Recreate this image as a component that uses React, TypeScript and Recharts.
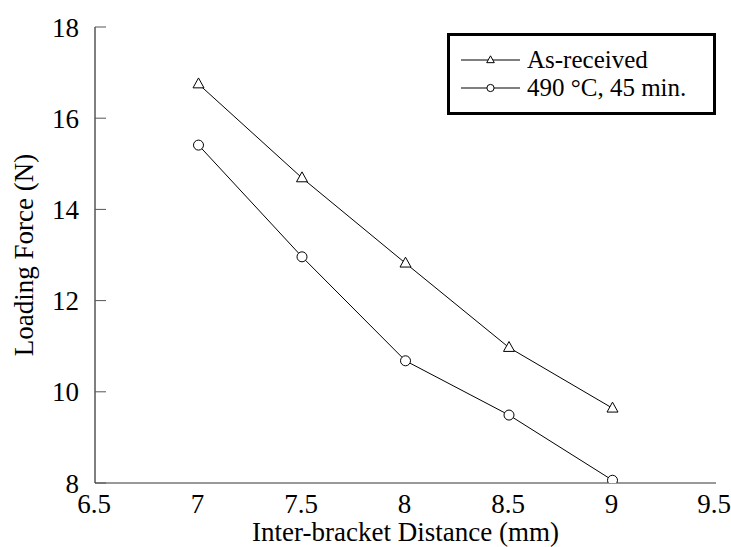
import {LineChart, Line, XAxis, YAxis, Legend} from 'recharts'

const distance: number[] = [7, 7.5, 8, 8.5, 9]
const asReceived: number[] = [16.75, 14.69, 12.82, 10.97, 9.64]
const heatTreated: number[] = [15.41, 12.96, 10.68, 9.49, 8.06]

const xTicks: number[] = [6.5, 7, 7.5, 8, 8.5, 9, 9.5]
const yTicks: number[] = [8, 10, 12, 14, 16, 18]

const seriesNames: string[] = ['As-received', '490 °C, 45 min.']

const FONT = '"Liberation Serif", "Times New Roman", serif'
const FONT_SIZE = 27
const LEGEND_FONT_SIZE = 25

const data = distance.map((d, i) => ({
    distance: d,
    asReceived: asReceived[i],
    heatTreated: heatTreated[i],
}))

const triangle = (cx: number, cy: number, s: number, key?: any) => (
    <path
        key={key}
        d={`M${cx},${cy - s * 1.1} L${cx - s},${cy + s * 0.7} L${cx + s},${cy + s * 0.7} Z`}
        fill="#fff"
        stroke="#000"
        strokeWidth={1}
    />
)

const circle = (cx: number, cy: number, r: number, key?: any) => (
    <circle key={key} cx={cx} cy={cy} r={r} fill="#fff" stroke="#000" strokeWidth={1} />
)

const triangleDot = (props: any) => triangle(props.cx, props.cy, 5.5, 'tri-' + props.index)
const circleDot = (props: any) => circle(props.cx, props.cy, 5, 'cir-' + props.index)

const renderLegend = () => {
    const markers = [
        (x: number, y: number) => triangle(x, y, 3.8),
        (x: number, y: number) => circle(x, y, 3.6),
    ]
    return (
        <div style={{
            border: '3px solid #000',
            background: '#fff',
            boxSizing: 'border-box',
            width: 269,
            height: 82,
            padding: '10px 0 0 11px',
            fontFamily: FONT,
            fontSize: LEGEND_FONT_SIZE,
            color: '#000',
        }}>
            {seriesNames.map((name, i) => (
                <div key={name} style={{display: 'flex', alignItems: 'center', height: 28}}>
                    <svg width={59} height={28} style={{flexShrink: 0}}>
                        <line x1={0} y1={14} x2={59} y2={14} stroke="#000" strokeWidth={1} />
                        {markers[i](29.5, 14)}
                    </svg>
                    <span style={{marginLeft: 7, lineHeight: '28px', whiteSpace: 'nowrap'}}>{name}</span>
                </div>
            ))}
        </div>
    )
}

const renderYLabel = (props: any) => {
    const vb = props.viewBox
    const x = vb.x + 33
    const y = vb.y + vb.height / 2
    return (
        <text
            x={x}
            y={y}
            transform={`rotate(-90, ${x}, ${y})`}
            textAnchor="middle"
            fontFamily={FONT}
            fontSize={FONT_SIZE}
            fill="#000"
        >
            Loading Force (N)
        </text>
    )
}

// bottom tick labels, last one nudged left a bit like in the original
const XTick = (props: any) => {
    const {x, y, payload} = props
    const shift = payload.value === 9.5 ? -2 : -1
    return (
        <text
            x={x + shift}
            y={y}
            dy="0.71em"
            textAnchor="middle"
            fontFamily={FONT}
            fontSize={FONT_SIZE}
            fill="#000"
        >
            {payload.value}
        </text>
    )
}

const tickStyle = {fontFamily: FONT, fontSize: FONT_SIZE, fill: '#000'}

const App = () => {
    return (
        <div style={{position: 'absolute', left: 0, top: 0}}>
            <LineChart width={731} height={547} data={data} margin={{top: 27, right: 15, left: 0, bottom: 0}}>
                <XAxis
                    dataKey="distance"
                    type="number"
                    domain={[6.5, 9.5]}
                    ticks={xTicks}
                    allowDataOverflow
                    height={64}
                    tickLine={false}
                    tickSize={6}
                    tickMargin={5}
                    tick={<XTick />}
                    axisLine={{stroke: '#777', strokeWidth: 1.5}}
                    label={{value: 'Inter-bracket Distance (mm)', position: 'insideBottom', offset: 6, style: {fontFamily: FONT, fontSize: FONT_SIZE, fill: '#000'}}}
                />
                <XAxis
                    xAxisId="top"
                    dataKey="distance"
                    type="number"
                    orientation="top"
                    domain={[6.5, 9.5]}
                    ticks={xTicks}
                    height={0}
                    tick={false}
                    tickLine={false}
                    axisLine={{stroke: '#222', strokeWidth: 1}}
                />
                <YAxis
                    type="number"
                    domain={[8, 18]}
                    ticks={yTicks}
                    allowDataOverflow
                    width={95}
                    tickSize={-11}
                    tickMargin={27}
                    tick={tickStyle}
                    tickLine={{stroke: '#555'}}
                    axisLine={{stroke: '#000', strokeWidth: 1}}
                    label={renderYLabel}
                />
                <YAxis
                    yAxisId="right"
                    orientation="right"
                    type="number"
                    domain={[8, 18]}
                    ticks={yTicks}
                    allowDataOverflow
                    width={0}
                    tickSize={-11}
                    tick={false}
                    tickLine={{stroke: '#555'}}
                    axisLine={{stroke: '#555', strokeWidth: 1.5}}
                />
                <Legend
                    layout="vertical"
                    align="center"
                    verticalAlign="middle"
                    content={renderLegend}
                    wrapperStyle={{top: 33, left: 447, width: 269, height: 82}}
                />
                <Line
                    dataKey="asReceived"
                    name={seriesNames[0]}
                    stroke="#000"
                    strokeWidth={1}
                    dot={triangleDot}
                    isAnimationActive={false}
                />
                <Line
                    dataKey="heatTreated"
                    name={seriesNames[1]}
                    stroke="#000"
                    strokeWidth={1}
                    dot={circleDot}
                    isAnimationActive={false}
                />
            </LineChart>
        </div>
    )
}

export default App
